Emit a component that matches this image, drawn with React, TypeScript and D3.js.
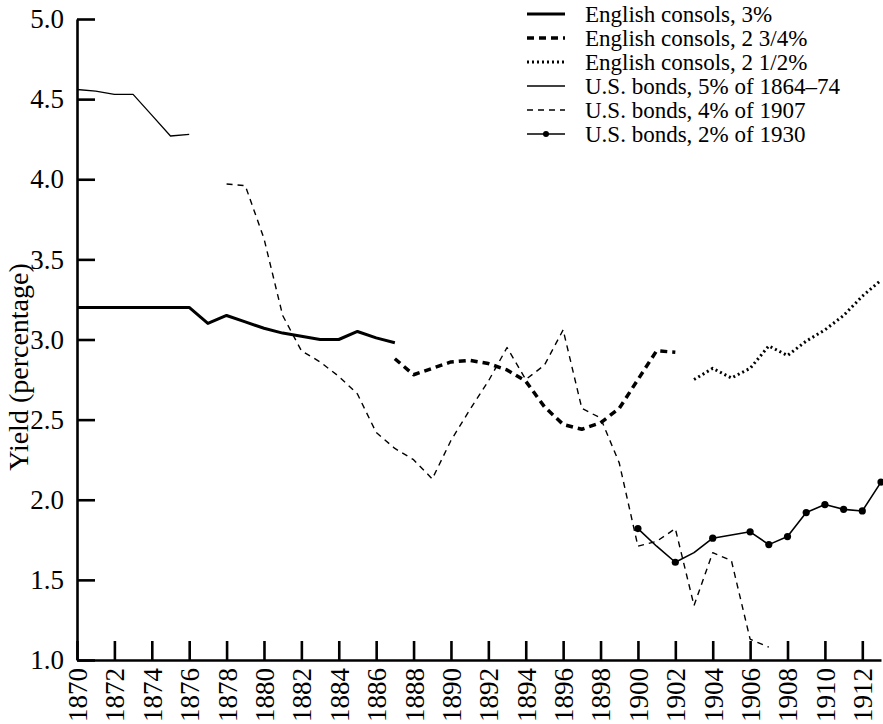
import React, { useEffect, useRef } from "react";
import * as d3 from "d3";

// yields (percent)
const consol3Years = d3.range(1870, 1888);
const consol3 = [3.2, 3.2, 3.2, 3.2, 3.2, 3.2, 3.2, 3.1, 3.15, 3.11, 3.07, 3.04, 3.02, 3.0, 3.0, 3.05, 3.01, 2.98];

const consol234Years = d3.range(1887, 1903);
const consol234 = [2.88, 2.78, 2.82, 2.86, 2.87, 2.85, 2.81, 2.74, 2.58, 2.47, 2.44, 2.48, 2.57, 2.75, 2.93, 2.92];

const consol212Years = d3.range(1903, 1914);
const consol212 = [2.75, 2.82, 2.76, 2.82, 2.96, 2.9, 2.99, 3.06, 3.15, 3.27, 3.37];

const us5Years = d3.range(1870, 1877);
const us5 = [4.56, 4.55, 4.53, 4.53, 4.4, 4.27, 4.28];

const us4Years = d3.range(1878, 1908);
const us4 = [
    3.97, 3.96, 3.63, 3.15, 2.93, 2.86, 2.77, 2.66, 2.42, 2.32,
    2.25, 2.13, 2.37, 2.56, 2.74, 2.95, 2.75, 2.84, 3.06, 2.57,
    2.51, 2.23, 1.71, 1.74, 1.82, 1.34, 1.67, 1.62, 1.13, 1.08,
];

const us2Years = d3.range(1900, 1914);
const us2 = [1.82, 1.71, 1.61, 1.67, 1.76, 1.78, 1.8, 1.72, 1.77, 1.92, 1.97, 1.94, 1.93, 2.11];
const us2DotYears = [1900, 1902, 1904, 1906, 1907, 1908, 1909, 1910, 1911, 1912, 1913];

const yTicks = [1.0, 1.5, 2.0, 2.5, 3.0, 3.5, 4.0, 4.5, 5.0];
const xTicks = d3.range(1870, 1913, 2);

interface Series {
    name: string;
    years: number[];
    values: number[];
    width: number;
    dash: string | null;
    dots: boolean;
}

const series: Series[] = [
    { name: "English consols, 3%", years: consol3Years, values: consol3, width: 3, dash: null, dots: false },
    { name: "English consols, 2 3/4%", years: consol234Years, values: consol234, width: 3.5, dash: "7,5", dots: false },
    { name: "English consols, 2 1/2%", years: consol212Years, values: consol212, width: 3, dash: "2,3", dots: false },
    { name: "U.S. bonds, 5% of 1864\u201374", years: us5Years, values: us5, width: 1.3, dash: null, dots: false },
    { name: "U.S. bonds, 4% of 1907", years: us4Years, values: us4, width: 1.4, dash: "6,5", dots: false },
    { name: "U.S. bonds, 2% of 1930", years: us2Years, values: us2, width: 1.6, dash: null, dots: true },
];

const FONT = "Liberation Serif, Times New Roman, Times, DejaVu Serif, serif";

const App: React.FC = () => {
    const svgRef = useRef<SVGSVGElement>(null);
    const width = 883;
    const height = 724;

    useEffect(() => {
        if (!svgRef.current) return;
        const svg = d3.select(svgRef.current);
        svg.selectAll("*").remove();

        const x = d3.scaleLinear().domain([1870, 1913]).range([77, 881]);
        const y = d3.scaleLinear().domain([1, 5]).range([660, 19]);

        // y axis, ticks pointing inward
        const yAxis = svg.append("g")
            .attr("transform", `translate(${x(1870)},0)`)
            .call(d3.axisLeft(y).tickValues(yTicks).tickSize(-18).tickSizeOuter(0).tickPadding(13).tickFormat(d3.format(".1f")));
        yAxis.attr("font-family", null).attr("font-size", null);
        yAxis.select(".domain").attr("stroke", "#000").attr("stroke-width", 2.6);
        yAxis.selectAll(".tick line").attr("stroke", "#000").attr("stroke-width", 2.6);
        yAxis.selectAll(".tick text")
            .attr("fill", "#000")
            .attr("font-family", FONT)
            .attr("font-size", 27);

        // x axis, ticks pointing up, labels rotated
        const xAxis = svg.append("g")
            .attr("transform", `translate(0,${y(1)})`)
            .call(d3.axisBottom(x).tickValues(xTicks).tickSize(-19).tickSizeOuter(0).tickFormat(d3.format("d")));
        xAxis.attr("font-family", null).attr("font-size", null);
        xAxis.select(".domain").attr("stroke", "#000").attr("stroke-width", 2.6);
        xAxis.selectAll(".tick line").attr("stroke", "#000").attr("stroke-width", 2.6);
        xAxis.selectAll(".tick text")
            .attr("fill", "#000")
            .attr("transform", "rotate(-90)")
            .attr("x", -8)
            .attr("y", 0)
            .attr("dy", "0.35em")
            .attr("text-anchor", "end")
            .attr("font-family", FONT)
            .attr("font-size", 27);

        // axis title
        svg.append("text")
            .attr("transform", "translate(28,367) rotate(-90)")
            .attr("text-anchor", "middle")
            .attr("font-family", FONT)
            .attr("font-size", 28)
            .attr("fill", "#000")
            .text("Yield (percentage)");

        const line = d3.line<[number, number]>()
            .x(d => x(d[0]))
            .y(d => y(d[1]));

        series.forEach(s => {
            const pts = s.years.map((yr, i) => [yr, s.values[i]] as [number, number]);
            const p = svg.append("path")
                .datum(pts)
                .attr("fill", "none")
                .attr("stroke", "#000")
                .attr("stroke-width", s.width)
                .attr("stroke-linejoin", "round")
                .attr("d", line);
            if (s.dash) p.attr("stroke-dasharray", s.dash);
            if (s.dots) {
                svg.append("g")
                    .selectAll("circle")
                    .data(pts.filter(d => us2DotYears.includes(d[0])))
                    .join("circle")
                    .attr("cx", d => x(d[0]))
                    .attr("cy", d => y(d[1]))
                    .attr("r", 3.6)
                    .attr("fill", "#000");
            }
        });

        // legend
        const legend = svg.append("g").attr("transform", "translate(527,14)");
        series.forEach((s, i) => {
            const row = legend.append("g").attr("transform", `translate(0,${i * 24})`);
            const l = row.append("line")
                .attr("x1", 0).attr("x2", 38)
                .attr("stroke", "#000")
                .attr("stroke-width", s.width);
            if (s.dash) l.attr("stroke-dasharray", s.dash);
            if (s.dots) row.append("circle").attr("cx", 19).attr("r", 3).attr("fill", "#000");
            row.append("text")
                .attr("x", 58)
                .attr("dy", "0.33em")
                .attr("font-family", FONT)
                .attr("font-size", 23)
                .attr("fill", "#000")
                .text(s.name);
        });
    }, []);

    return (
        <svg
            ref={svgRef}
            width={width}
            height={height}
            style={{ position: "absolute", left: 0, top: 0, background: "#fff" }}
        />
    );
};

export default App;
